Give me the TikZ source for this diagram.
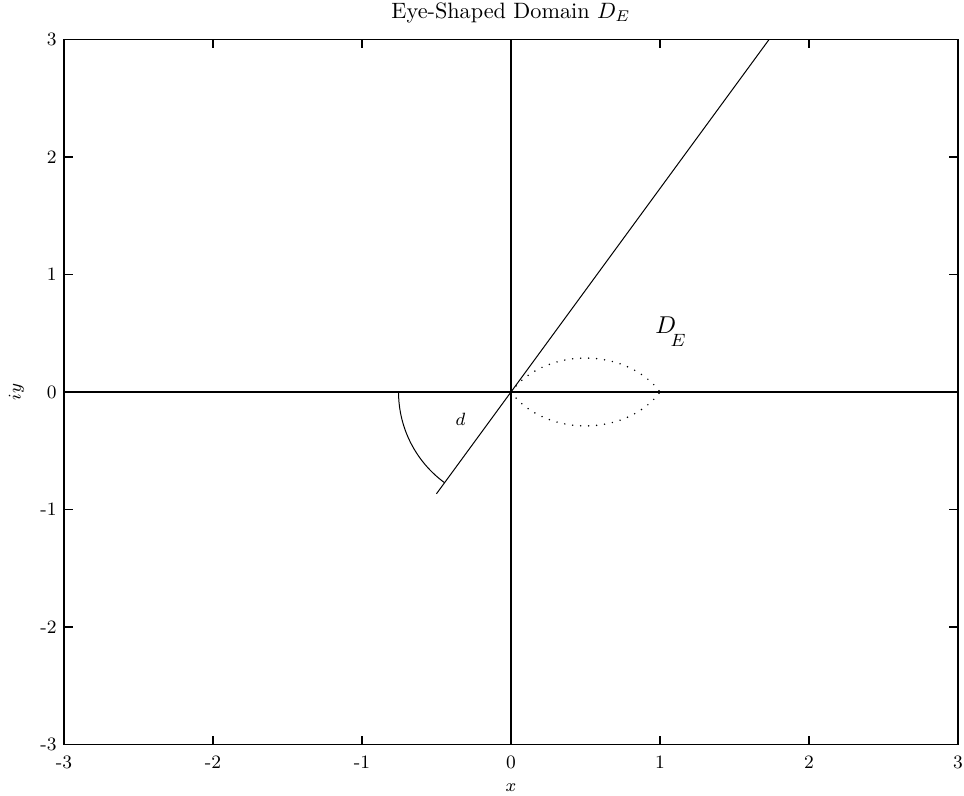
\documentclass[tikz,border=0pt]{standalone}
\usetikzlibrary{calc}
\begin{document}
\begin{tikzpicture}[x=67.05pt,y=52.875pt,
  frame/.style={line width=0.6pt},
  axisline/.style={line width=1pt},
  curve/.style={line width=0.45pt},
  eye/.style={line width=0.75pt,line cap=round,dash pattern=on 0pt off 3.6pt},
  ticklab/.style={font=\fontsize{8.5}{10}\selectfont,inner sep=0pt},
  smalllab/.style={font=\fontsize{8}{10}\selectfont,inner sep=0pt}]
\useasboundingbox (-3.4295,-3.4383) rectangle (3.0403,3.3362);
\coordinate (O) at (0,0);
% frame
\draw[frame] (-3,-3) rectangle (3,3);
% ticks and labels
\foreach \k in {-3,...,3}{
  \draw[frame] (\k,-3) -- ++(0,4pt);
  \draw[frame] (\k,3) -- ++(0,-4pt);
  \draw[frame] (-3,\k) -- ++(4pt,0);
  \draw[frame] (3,\k) -- ++(-4pt,0);
  \node[ticklab,anchor=east] (yl\k) at (-3.047,\k) {\k};
  \node[ticklab] (xl\k) at (\k,-3.149) {\k};
}
% axes
\draw[axisline] (-3,0) -- (3,0);
\draw[axisline] (0,-3) -- (0,3);
% ray at 60 degrees
\coordinate (A) at (-0.5,-0.866);
\coordinate (B) at (1.7321,3);
\draw[curve] (A) -- (B);
% angle arc d (circle on screen)
\draw[curve] ($(O)+(180:50.6pt)$) arc[start angle=180,end angle=233.79,radius=50.6pt];
% eye-shaped domain
\draw[eye] plot[domain=150:30,samples=60] ({0.5+0.57735*cos(\x)},{-0.288675+0.57735*sin(\x)});
\draw[eye] plot[domain=210:330,samples=60] ({0.5+0.57735*cos(\x)},{0.288675+0.57735*sin(\x)});
% labels
\node[font=\fontsize{10}{12}\selectfont,inner sep=0pt] (title) at (0,3.2255) {Eye-Shaped Domain $D_E$};
\node[smalllab] (xlab) at (0,-3.37) {$x$};
\node[smalllab,rotate=90] (ylab) at (-3.319,0) {$iy$};
\node[smalllab] (dlab) at (-0.339,-0.23) {$d$};
\node[font=\fontsize{11}{13}\selectfont,inner sep=0pt,anchor=base west] (DE) at (0.966,0.4936)
  {$D$\kern-2.5pt\raisebox{-5.5pt}{\fontsize{8}{10}\selectfont$E$}};
\end{tikzpicture}
\end{document}
